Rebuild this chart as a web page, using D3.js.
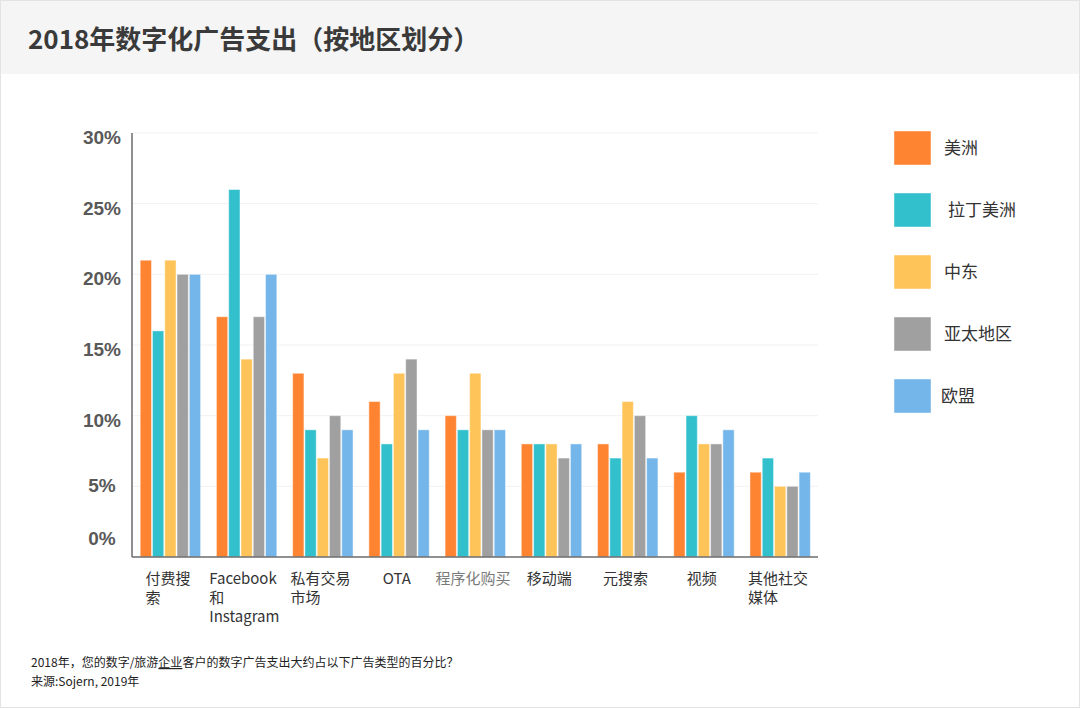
<!DOCTYPE html>
<html>
<head>
<meta charset="utf-8">
<script src="https://cdn.jsdelivr.net/npm/d3@7"></script>
<style>
  body { margin: 0; background: #fff; }
  svg { display: block; }
</style>
</head>
<body>
<div id="chart"></div>
<script>
// categories (label lines as they wrap in the original)
var categories = ["付费搜索", "Facebook和Instagram", "私有交易市场", "OTA", "程序化购买", "移动端", "元搜索", "视频", "其他社交媒体"];
var categoryLines = [["付费搜", "索"], ["Facebook", "和", "Instagram"], ["私有交易", "市场"], ["OTA"], ["程序化购买"], ["移动端"], ["元搜索"], ["视频"], ["其他社交", "媒体"]];

var regions = ["美洲", "拉丁美洲", "中东", "亚太地区", "欧盟"];
var americas = [21, 17, 13, 11, 10, 8, 8, 6, 6];
var latam    = [16, 26, 9, 8, 9, 8, 7, 10, 7];
var middleEast = [21, 14, 7, 13, 13, 8, 11, 8, 5];
var apac     = [20, 17, 10, 14, 9, 7, 10, 8, 5];
var eu       = [20, 20, 9, 9, 9, 8, 7, 9, 6];
var seriesValues = [americas, latam, middleEast, apac, eu];

var yTicks = [0, 5, 10, 15, 20, 25, 30];

var colors = ["#ff8432", "#32c0cc", "#ffc459", "#a0a0a0", "#74b6ea"];

var W = 1080, H = 708;
var svg = d3.select("#chart").append("svg")
    .attr("width", W)
    .attr("height", H);

// frame + header
svg.append("rect").attr("x", 0.5).attr("y", 0.5).attr("width", W - 1).attr("height", H - 1)
    .attr("fill", "#fff").attr("stroke", "#e3e3e3");
svg.append("rect").attr("x", 1).attr("y", 1).attr("width", W - 2).attr("height", 73)
    .attr("fill", "#f5f5f5");
svg.append("text")
    .attr("x", 28).attr("y", 49)
    .style("font-family", "'Noto Sans CJK SC', sans-serif")
    .style("font-size", "26px")
    .style("font-weight", "bold")
    .attr("fill", "#3a3a3a")
    .text("2018年数字化广告支出（按地区划分）");

var x0 = 132, x1 = 818, yBase = 557;

var scaleX = d3.scaleBand()
    .domain(categories)
    .range([x0, x1]);

var scaleInner = d3.scaleBand()
    .domain(regions)
    .range([8.2, 68.6])
    .paddingInner(0.08);

var scaleY = d3.scaleLinear()
    .domain([0, 30])
    .range([yBase, 133]);

// gridlines
svg.append("g")
    .selectAll("line")
    .data(yTicks.filter(d => d > 0))
    .join("line")
    .attr("x1", x0).attr("x2", x1)
    .attr("y1", d => scaleY(d)).attr("y2", d => scaleY(d))
    .attr("stroke", "#f1f1f1")
    .attr("stroke-width", 1);

// y tick labels (the original nudges the lowest two upward)
var nudge = {0: -19, 5: -1};
svg.append("g")
    .selectAll("text")
    .data(yTicks)
    .join("text")
    .attr("x", 102)
    .attr("y", d => scaleY(d) + (d in nudge ? nudge[d] : 4) + 7)
    .attr("text-anchor", "middle")
    .style("font-family", "'Liberation Sans', Arial, sans-serif")
    .style("font-size", "19px")
    .style("font-weight", "bold")
    .attr("fill", "#595959")
    .text(d => d + "%");

// bars
var groups = svg.append("g")
    .selectAll("g")
    .data(categories)
    .join("g")
    .attr("transform", d => "translate(" + scaleX(d) + ",0)");

groups.selectAll("rect")
    .data((c, i) => regions.map((r, j) => ({region: r, value: seriesValues[j][i], idx: j})))
    .join("rect")
    .attr("x", d => scaleInner(d.region))
    .attr("width", scaleInner.bandwidth())
    .attr("y", d => scaleY(d.value))
    .attr("height", d => yBase - scaleY(d.value))
    .attr("fill", d => colors[d.idx])
    .attr("stroke", "#ffffff")
    .attr("stroke-opacity", 0.45)
    .attr("stroke-width", 1);

// axes lines
svg.append("line")
    .attr("x1", x0).attr("x2", x0).attr("y1", 133).attr("y2", yBase)
    .attr("stroke", "#6b6b6b").attr("stroke-width", 1.5);
svg.append("line")
    .attr("x1", x0).attr("x2", x1).attr("y1", yBase).attr("y2", yBase)
    .attr("stroke", "#6b6b6b").attr("stroke-width", 1.5);

// category labels
var labelFont = "'Noto Sans CJK SC', sans-serif";
var measure = svg.append("text").style("font-family", labelFont).style("font-size", "15px");
categories.forEach(function(c, i) {
    var lines = categoryLines[i];
    var widest = d3.max(lines, l => { measure.text(l); return measure.node().getComputedTextLength(); });
    var cx = scaleX(c) + scaleX.bandwidth() / 2 - 2;
    var t = svg.append("text")
        .style("font-family", labelFont)
        .style("font-size", "15px")
        .attr("fill", c === "程序化购买" ? "#7a7a7a" : "#333");
    lines.forEach(function(l, k) {
        t.append("tspan")
            .attr("x", cx - widest / 2)
            .attr("y", 584 + k * 19)
            .text(l);
    });
});
measure.remove();

// legend
var legend = svg.append("g")
    .selectAll("g")
    .data(regions)
    .join("g")
    .attr("transform", (d, i) => "translate(894," + (131 + i * 62) + ")");
legend.append("rect")
    .attr("width", 37).attr("height", 34)
    .attr("fill", (d, i) => colors[i])
    .attr("stroke", "#fff").attr("stroke-opacity", 0.45);
legend.append("text")
    .attr("x", (d, i) => i === 1 ? 54 : (i === 4 ? 47 : 50))
    .attr("y", 23)
    .style("font-family", labelFont)
    .style("font-size", "17px")
    .attr("fill", "#333")
    .text(d => d);

// footnote
var note = svg.append("text")
    .attr("x", 31).attr("y", 667)
    .style("font-family", labelFont)
    .style("font-size", "12px")
    .attr("fill", "#222");
note.append("tspan").text("2018年，您的数字/旅游");
note.append("tspan").style("text-decoration", "underline").text("企业");
note.append("tspan").text("客户的数字广告支出大约占以下广告类型的百分比？");
svg.append("text")
    .attr("x", 31).attr("y", 686)
    .style("font-family", labelFont)
    .style("font-size", "12px")
    .attr("fill", "#222")
    .text("来源:Sojern, 2019年");
</script>
</body>
</html>
